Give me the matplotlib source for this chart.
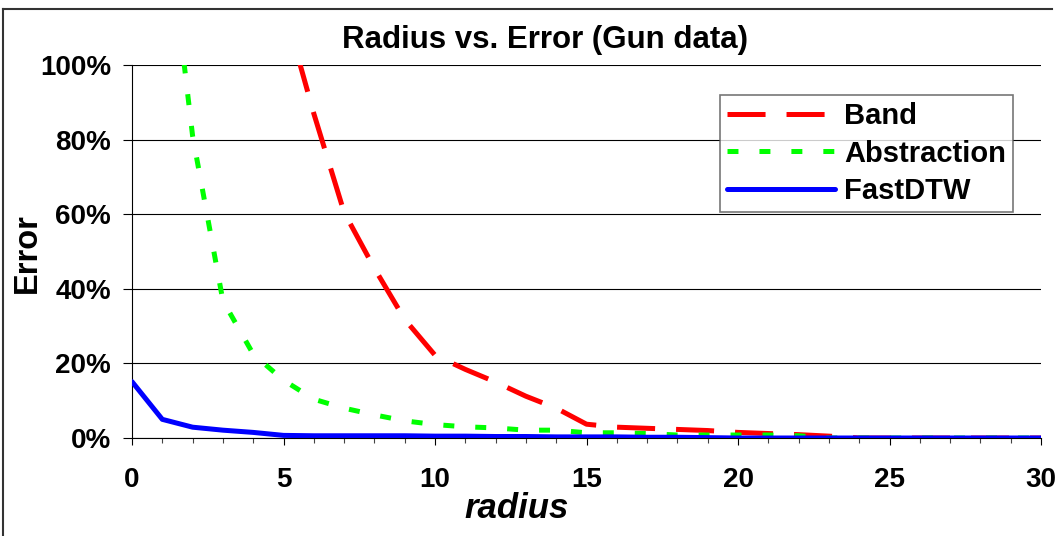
import matplotlib
matplotlib.use("Agg")
import matplotlib.pyplot as plt
from matplotlib.lines import Line2D
from matplotlib.ticker import MultipleLocator, FixedLocator

plt.rcParams['font.family'] = ['Liberation Sans', 'DejaVu Sans']
plt.rcParams['lines.scale_dashes'] = False

radius = list(range(0, 31))
band = [260, 220, 185, 152, 130, 116, 87, 60.5, 45.5, 31.8, 22.2, 18.4, 15.0, 11.2, 8.0, 3.7,
        2.9, 2.6, 2.3, 2.0, 1.5, 1.2, 0.9, 0.5, 0, 0, 0, 0, 0, 0, 0]
abstraction = [210, 150, 81, 36.8, 22.5, 15.5, 10.4, 8.0, 6.2, 4.6, 3.6, 3.0, 2.7, 2.1, 2.1, 1.4,
               1.4, 1.2, 0.8, 0.8, 0.8, 0.8, 0.6, 0, 0, 0, 0, 0, 0, 0, 0]
fastdtw = [15.1, 5.0, 2.9, 2.1, 1.5, 0.7, 0.6, 0.6, 0.6, 0.6, 0.5, 0.5, 0.4, 0.4, 0.3, 0.3,
           0.3, 0.2, 0.2, 0.1, 0, 0, 0, 0, 0, 0, 0, 0, 0, 0, 0]
series_names = ['Band', 'Abstraction', 'FastDTW']
title = 'Radius vs. Error (Gun data)'
y_ticks = [0, 20, 40, 60, 80, 100]
x_major = [0, 5, 10, 15, 20, 25, 30]

W, H = 1057, 536
fig = plt.figure(figsize=(W / 100, H / 100), dpi=100)
L, R, T, B = 132, 1041, 65, 438
ax = fig.add_axes([L / W, 1 - B / H, (R - L) / W, (B - T) / H])

lw = 3.6
l1, = ax.plot(radius, band, color='#ff0000', lw=lw, zorder=3, label=series_names[0])
l1.set_dashes((27.4, 15.1))
l2, = ax.plot(radius, abstraction, color='#00ff00', lw=lw, zorder=3, label=series_names[1])
l2.set_dashes((7.9, 15.1))
l3, = ax.plot(radius, fastdtw, color='#0000ff', lw=lw, zorder=4, label=series_names[2],
              solid_capstyle='round')

ax.set_xlim(0, 30)
ax.set_ylim(0, 100)
ax.xaxis.set_major_locator(FixedLocator(x_major))
ax.xaxis.set_minor_locator(MultipleLocator(1))
ax.yaxis.set_major_locator(FixedLocator(y_ticks))
ax.set_yticklabels([f'{v}%' for v in y_ticks])
ax.set_xticklabels([str(v) for v in x_major])

for s in ['top', 'right']:
    ax.spines[s].set_visible(False)
for s in ['left', 'bottom']:
    ax.spines[s].set_linewidth(0.8)
    ax.spines[s].set_color('black')

ax.grid(axis='y', color='black', lw=0.8, zorder=1)
ax.set_axisbelow(True)

ax.tick_params(axis='x', which='major', direction='out', length=5.2, width=0.8,
               pad=16, labelsize=20)
ax.tick_params(axis='x', which='minor', direction='out', length=3.6, width=0.8, color='#444444')
ax.tick_params(axis='y', which='major', direction='out', length=6.5, width=0.8,
               pad=8.5, labelsize=20)
for lab in ax.get_xticklabels() + ax.get_yticklabels():
    lab.set_fontweight('bold')

leg = ax.legend(loc='upper left', bbox_to_anchor=(720 / W, 1 - 95 / H),
                bbox_transform=fig.transFigure,
                prop={'weight': 'bold', 'size': 21},
                frameon=True, fancybox=False, handlelength=3.7, handletextpad=0.3,
                borderpad=0.25, labelspacing=0.32, borderaxespad=0)
leg.get_frame().set_edgecolor('#555555')
leg.get_frame().set_linewidth(1.2)
leg.set_zorder(5)

fig.text(545 / W, 1 - 48 / H, title, ha='center', va='baseline', fontsize=22.5,
         fontweight='bold')
fig.text(517 / W, 1 - 518 / H, 'radius', ha='center', va='baseline', fontsize=25,
         fontweight='bold', style='italic')
fig.text(27 / W, 1 - 253 / H, 'Error', ha='center', va='center', rotation=90,
         fontsize=23.5, fontweight='bold')

fig.add_artist(Line2D([3 / W, 1052 / W], [1 - 9 / H, 1 - 9 / H], transform=fig.transFigure,
                      color='#333333', lw=1.5))
fig.add_artist(Line2D([3 / W, 3 / W], [1 - 9 / H, 0], transform=fig.transFigure,
                      color='#333333', lw=1.5))

fig.savefig('out.png', dpi=100)
